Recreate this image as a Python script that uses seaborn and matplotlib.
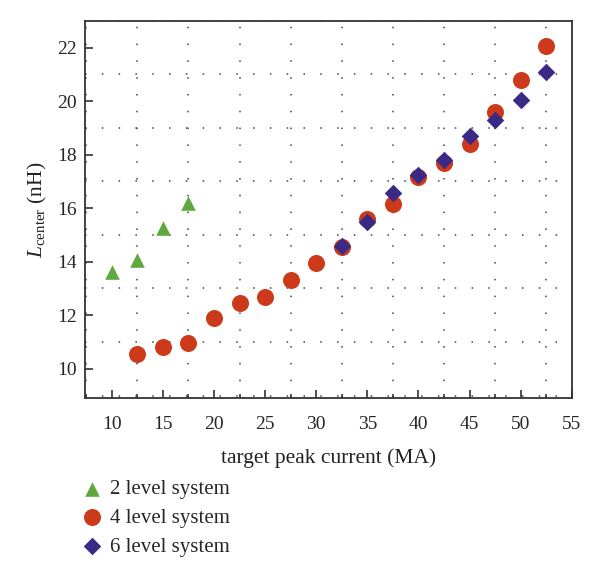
import numpy as np
import pandas as pd
import matplotlib
matplotlib.use('Agg')
import matplotlib.pyplot as plt
from matplotlib.ticker import MultipleLocator
import seaborn as sns

# data
x2 = [10, 12.5, 15, 17.5]
y2 = [13.6, 14.05, 15.25, 16.2]

x4 = [12.5, 15, 17.5, 20, 22.5, 25, 27.5, 30, 32.5, 35, 37.5, 40, 42.5, 45, 47.5, 50, 52.5]
y4 = [10.55, 10.8, 10.95, 11.9, 12.45, 12.7, 13.3, 13.95, 14.55, 15.6, 16.15, 17.15, 17.7, 18.4, 19.6, 20.8, 22.05]

x6 = [32.5, 35, 37.5, 40, 42.5, 45, 47.5, 50, 52.5]
y6 = [14.6, 15.5, 16.55, 17.25, 17.8, 18.7, 19.3, 20.05, 21.1]

labels = ['2 level system', '4 level system', '6 level system']

df = pd.concat([
    pd.DataFrame({'current': x2, 'L': y2, 'system': labels[0]}),
    pd.DataFrame({'current': x4, 'L': y4, 'system': labels[1]}),
    pd.DataFrame({'current': x6, 'L': y6, 'system': labels[2]}),
])

sns.set_style('white')
plt.rcParams['font.family'] = ['Liberation Serif', 'DejaVu Serif']
plt.rcParams['mathtext.fontset'] = 'custom'
plt.rcParams['mathtext.rm'] = 'Liberation Serif'
plt.rcParams['mathtext.it'] = 'Liberation Serif:italic'

palette = {labels[0]: '#5ea83f', labels[1]: '#cc3a1b', labels[2]: '#3b2a85'}
markers = {labels[0]: '^', labels[1]: 'o', labels[2]: 'D'}
sizes = {labels[0]: 110, labels[1]: 150, labels[2]: 80}

fig = plt.figure(figsize=(6, 5.78), dpi=100)
ax = fig.add_axes([0.142, 0.311, 0.811, 0.653])

for lab in labels:
    sub = df[df.system == lab]
    sns.scatterplot(data=sub, x='current', y='L', color=palette[lab],
                    marker=markers[lab], s=sizes[lab], linewidth=0,
                    ax=ax, label=lab, zorder=3)

ax.set_xlim(7.4, 55)
ax.set_ylim(8.9, 23)
ax.xaxis.set_major_locator(MultipleLocator(5))
ax.xaxis.set_minor_locator(MultipleLocator(2.5))
ax.yaxis.set_major_locator(MultipleLocator(2))
ax.yaxis.set_minor_locator(MultipleLocator(1))

ax.grid(False)
ax.xaxis.grid(True, which='minor', color='#444444', linestyle=(0, (1, 10)), linewidth=1.1)
ax.yaxis.grid(True, which='minor', color='#444444', linestyle=(0, (1, 10)), linewidth=1.1)
ax.set_axisbelow(True)

ax.tick_params(axis='x', which='major', direction='in', length=6, width=1.2,
               color='#333333', labelsize=14, pad=13, bottom=True, top=False)
ax.tick_params(axis='x', which='minor', direction='in', length=3, width=1.2,
               color='#333333', bottom=True, top=False)
ax.tick_params(axis='y', which='major', direction='in', length=6, width=1.2,
               color='#333333', labelsize=14, pad=6, left=True, right=False)
ax.tick_params(axis='y', which='minor', length=0, left=False, right=False)

for sp in ax.spines.values():
    sp.set_color('#333333')
    sp.set_linewidth(1.3)

ax.set_xlabel('target peak current (MA)', fontsize=15.5, color='#222222', labelpad=11)
ax.set_ylabel(r'$L_{\mathrm{center}}$ (nH)', fontsize=15.5, color='#222222', labelpad=6)

handles, labs = ax.get_legend_handles_labels()
ax.get_legend().remove()
fig.legend(handles, labs, loc='upper left', bbox_to_anchor=(0.118, 0.185),
           frameon=False, fontsize=15, handletextpad=0.3, labelspacing=0.45,
           handlelength=1.2, borderaxespad=0)

fig.savefig('out.png', dpi=100)
